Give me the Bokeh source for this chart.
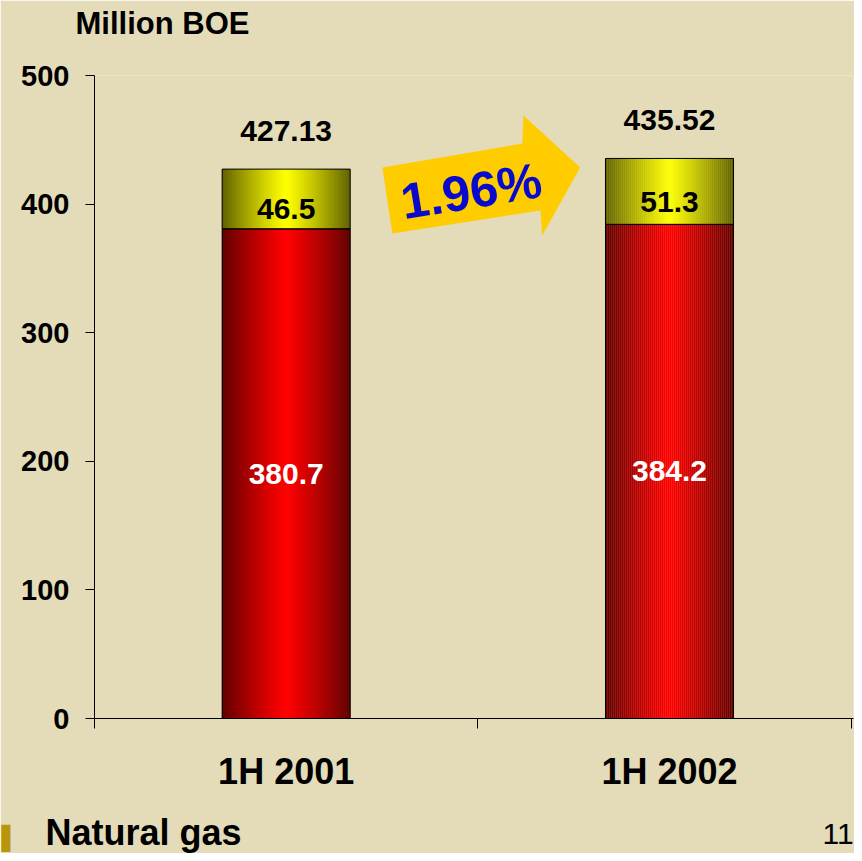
from bokeh.plotting import figure
from bokeh.models import Range1d, FixedTicker, Label, PolyAnnotation
from bokeh.embed import file_html
from bokeh.resources import INLINE
from bokeh.core.properties import value

# ---- data ----
categories = ["1H 2001", "1H 2002"]
crude_oil = [380.7, 384.2]
natural_gas = [46.5, 51.3]
totals = [427.13, 435.52]
growth_text = "1.96%"
y_ticks = [0, 100, 200, 300, 400, 500]
unit_text = "Million BOE"
legend_text = "Natural gas"
page_number = "11"

# ---- style ----
FONT = "Liberation Sans"
BG = "#E4DCB8"
BAR_W = 0.334
N_STRIPS = 64
X_END = 1.98

p = figure(width=854, height=853, x_range=Range1d(0, X_END), y_range=Range1d(0, 500),
           output_backend="svg", toolbar_location=None, title_location=None,
           min_border_left=94, min_border_right=1, min_border_top=75, min_border_bottom=135)
p.background_fill_color = BG
p.border_fill_color = BG
p.outline_line_color = None
p.xgrid.visible = False
p.ygrid.visible = False

x_centers = [i + 0.5 for i in range(len(categories))]


def shade(base, t):
    f = 1.0 - 0.62 * (t ** 1.15)
    r, g, b = base
    return "#%02x%02x%02x" % (int(r * f), int(g * f), int(b * f))


# gradient strips
sx, sw, sb, stp, sc = [], [], [], [], []
for xc, oil, gas in zip(x_centers, crude_oil, natural_gas):
    for (bottom, top, base) in [(0, oil, (255, 0, 0)), (oil, oil + gas, (255, 255, 0))]:
        for k in range(N_STRIPS):
            u = (k + 0.5) / N_STRIPS
            t = abs(2 * u - 1)
            sx.append(xc - BAR_W / 2 + u * BAR_W)
            sw.append(BAR_W / N_STRIPS * 1.15)
            sb.append(bottom)
            stp.append(top)
            sc.append(shade(base, t))

p.vbar(x=sx, width=sw, bottom=sb, top=stp, fill_color=sc, line_color=None)

# outlines
p.vbar(x=x_centers, width=BAR_W, bottom=0, top=crude_oil, fill_color=None,
       line_color="black", line_width=1)
p.vbar(x=x_centers, width=BAR_W, bottom=crude_oil,
       top=[o + g for o, g in zip(crude_oil, natural_gas)], fill_color=None,
       line_color="black", line_width=1)

# value labels
p.text(x=x_centers, y=[t + 30 for t in totals], text=["%.2f" % t for t in totals],
       text_font=value(FONT), text_font_style="bold", text_font_size="30px",
       text_align="center", text_baseline="alphabetic", text_color="black")
p.text(x=x_centers, y=[o + g / 2 - 8 for o, g in zip(crude_oil, natural_gas)],
       text=[str(g) for g in natural_gas],
       text_font=value(FONT), text_font_style="bold", text_font_size="30px",
       text_align="center", text_baseline="middle", text_color="black")
p.text(x=x_centers, y=[o / 2 for o in crude_oil], text=[str(o) for o in crude_oil],
       text_font=value(FONT), text_font_style="bold", text_font_size="30px",
       text_align="center", text_baseline="middle", text_color="white")

# growth arrow (decoration)
arrow_xs = [0.751, 1.116, 1.119, 1.267, 1.168, 1.163, 0.777]
arrow_ys = [428.5, 447.1, 468.9, 428.5, 375.6, 395.0, 377.1]
p.add_layout(PolyAnnotation(xs=arrow_xs, ys=arrow_ys, fill_color="#FFCC00", fill_alpha=1,
                            line_color=None))
p.add_layout(Label(x=0.983, y=410, text=growth_text, text_font=FONT, text_font_style="bold",
                   text_font_size="50px", text_color="#0A0ACC", text_align="center",
                   text_baseline="middle", angle=0.16))

# axes
xax = p.xaxis[0]
xax.ticker = FixedTicker(ticks=x_centers, minor_ticks=[0, 1, X_END - 0.004])
xax.major_label_overrides = {xc: c for xc, c in zip(x_centers, categories)}
xax.major_tick_out = 0
xax.major_tick_in = 0
xax.minor_tick_out = 10
xax.minor_tick_in = 0
xax.minor_tick_line_color = "black"
xax.axis_line_color = "black"
xax.major_label_text_font = FONT
xax.major_label_text_font_style = "bold"
xax.major_label_text_font_size = "36px"
xax.major_label_text_color = "black"
xax.major_label_standoff = 22

yax = p.yaxis[0]
yax.ticker = FixedTicker(ticks=y_ticks)
yax.major_tick_out = 9
yax.major_tick_in = 0
yax.minor_tick_out = 0
yax.minor_tick_in = 0
yax.axis_line_color = "black"
yax.major_tick_line_color = "black"
yax.major_label_text_font = FONT
yax.major_label_text_font_style = "bold"
yax.major_label_text_font_size = "29px"
yax.major_label_text_color = "black"
yax.major_label_standoff = 16

# texts outside the frame (screen px -> data via the plot's scale)
px_per_x = 759 / X_END
px_per_y = 643 / 500.0


def dx(sxp):
    return (sxp - 94) / px_per_x


def dy(syp):
    return (718 - syp) / px_per_y


p.add_layout(Label(x=dx(75), y=dy(23), text=unit_text, text_font=FONT,
                   text_font_style="bold", text_font_size="31px", text_color="black",
                   text_align="left", text_baseline="alphabetic"), "above")
p.add_layout(Label(x=dx(822), y=dy(833), text=page_number, text_font=FONT,
                   text_font_size="30px", text_color="black", text_align="left",
                   text_baseline="alphabetic"), "above")
p.add_layout(Label(x=dx(45), y=dy(832), text=legend_text, text_font=FONT,
                   text_font_style="bold", text_font_size="36px", text_color="black",
                   text_align="left", text_baseline="alphabetic"), "below")
p.add_layout(Label(x=dx(1), y=dy(850), text="\u258c", text_font="DejaVu Sans",
                   text_font_size="23px", text_color="#B8960C", text_align="left",
                   text_baseline="bottom"), "left")

open("out.html", "w").write(file_html(p, INLINE))
